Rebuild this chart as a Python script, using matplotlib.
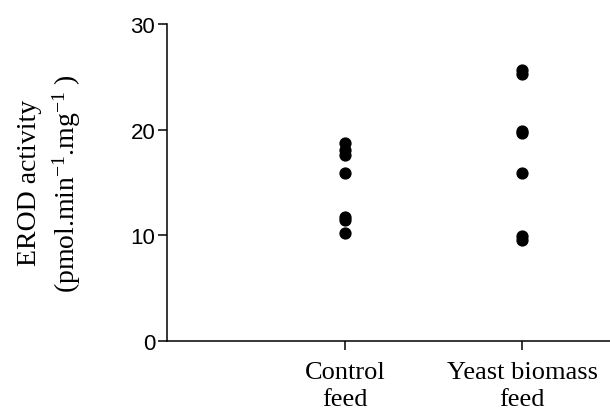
import numpy as np
import matplotlib
matplotlib.use("Agg")
import matplotlib.pyplot as plt

plt.rcParams['mathtext.default'] = 'regular'

groups = ["Control\nfeed", "Yeast biomass\nfeed"]
control = [18.7, 18.1, 17.6, 15.9, 11.7, 11.4, 10.2]
yeast = [25.6, 25.3, 19.9, 19.7, 15.9, 9.9, 9.5]
yticks = [0, 10, 20, 30]

fig = plt.figure(figsize=(6.1, 4.1), dpi=100)
ax = fig.add_axes([0.274, 0.167, 0.728, 0.772])

for i, vals in enumerate([control, yeast]):
    ax.plot(np.full(len(vals), i + 1), vals, 'o', color='black',
            markersize=7.8, linestyle='none', clip_on=False)

ax.set_xlim(0, 2.5)
ax.set_ylim(0, 30)
ax.set_xticks([1, 2])
ax.set_xticklabels(groups, family='Liberation Serif', fontsize=19,
                   linespacing=1.3)
ax.set_yticks(yticks)
ax.set_yticklabels([str(t) for t in yticks], family='Liberation Sans',
                   fontsize=16)

ax.spines['top'].set_visible(False)
ax.spines['right'].set_visible(False)
for s in ['left', 'bottom']:
    ax.spines[s].set_linewidth(1.1)
ax.tick_params(axis='both', length=6.5, width=1.1, direction='out', pad=2)
ax.tick_params(axis='x', pad=8)

ax.set_ylabel("EROD activity\n(pmol.min$^{-1}$.mg$^{-1}$ )",
              family='Liberation Serif', fontsize=20, linespacing=1.35,
              labelpad=34)

fig.savefig("out.png", dpi=100)
